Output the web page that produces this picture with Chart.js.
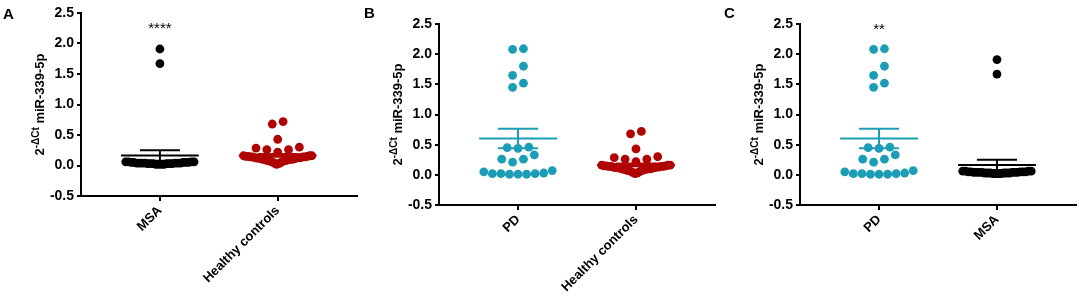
<!DOCTYPE html>
<html>
<head>
<meta charset="utf-8">
<script src="https://cdn.jsdelivr.net/npm/chart.js@4.4.1/dist/chart.umd.min.js"></script>
<style>
  html, body { margin: 0; padding: 0; background: #fff; }
  #wrap { position: relative; width: 1084px; height: 306px; overflow: hidden; }
  #wrap canvas { position: absolute; top: 0; }
</style>
</head>
<body>
<div id="wrap">
  <canvas id="chartA" width="361" height="306" style="left:0"></canvas>
  <canvas id="chartB" width="361" height="306" style="left:361px"></canvas>
  <canvas id="chartC" width="362" height="306" style="left:722px"></canvas>
</div>
<script>
// values (2^-dCt of miR-339-5p)
const pdValues = [2.09, 2.08, 1.80, 1.65, 1.52, 1.45, 0.46, 0.45, 0.44, 0.33, 0.26, 0.26, 0.21,
    0.07, 0.03, 0.02, 0.02, 0.01, 0.01, 0.01, 0.02, 0.05];
const msaValues = [1.91, 1.67,
    0.02, 0.02, 0.02, 0.02, 0.03, 0.03, 0.03, 0.03, 0.03, 0.03,
    0.04, 0.04, 0.04, 0.04, 0.04, 0.04, 0.04, 0.05, 0.05, 0.05, 0.05, 0.05,
    0.06, 0.06, 0.06, 0.06];
const hcValues = [0.72, 0.68, 0.43, 0.30, 0.285, 0.26, 0.26, 0.22,
    0.02, 0.03, 0.04, 0.05, 0.06, 0.07, 0.07, 0.08, 0.08, 0.09, 0.09, 0.10, 0.10, 0.10,
    0.11, 0.11, 0.12, 0.12, 0.12, 0.13, 0.13, 0.13, 0.14, 0.14, 0.14, 0.14,
    0.15, 0.15, 0.15, 0.16, 0.16, 0.16];

const panelLetters = ['A', 'B', 'C'];
const panelGroups = [
    ['MSA', 'Healthy controls'],
    ['PD', 'Healthy controls'],
    ['PD', 'MSA']
];
const sigLabels = ['****', '', '**'];
const sigLevels = [2.24, null, 2.41];
const yTickValues = [-0.5, 0, 0.5, 1, 1.5, 2, 2.5];

const groupValues = { 'PD': pdValues, 'MSA': msaValues, 'Healthy controls': hcValues };
const groupColors = { 'PD': '#1b9db6', 'MSA': '#000000', 'Healthy controls': '#b00404' };

// layout of each panel on the page
const panelBoxes = [
    { id: 'chartA', axisWidth: 81, top: 13, right: 4, xHeight: 110, letterX: 3, letterY: 19 },
    { id: 'chartB', axisWidth: 78, top: 24, right: 7, xHeight: 101, letterX: 3, letterY: 18 },
    { id: 'chartC', axisWidth: 78, top: 24, right: 8, xHeight: 101, letterX: 2, letterY: 18 }
];

const FONT = "'Liberation Sans', Arial, Helvetica, sans-serif";
const ROW_SPAN = 0.16;   // values closer than this share a row in the scatter
const SLOT = 0.092;      // horizontal gap between dots of one row (x units)
const MAX_SPREAD = 0.58; // widest a row may get (x units)

// GraphPad-like column scatter: rows of close values spread out from the middle
function swarm(values) {
    const sorted = values.slice().sort((a, b) => a - b);
    const rows = [];
    let row = null;
    sorted.forEach(v => {
        if (!row || v - row[0] > ROW_SPAN) {
            row = [];
            rows.push(row);
        }
        row.push(v);
    });
    const out = [];
    rows.forEach(r => {
        const n = r.length;
        const step = n > 1 ? Math.min(SLOT, MAX_SPREAD / (n - 1)) : 0;
        const slots = [];
        for (let i = 0; i < n; i++) slots.push((i - (n - 1) / 2) * step);
        slots.sort((a, b) => (Math.abs(a) - Math.abs(b)) || (a - b));
        r.forEach((v, i) => out.push({ dx: slots[i], y: v }));
    });
    return out;
}

function meanSem(values) {
    const n = values.length;
    const mean = values.reduce((s, v) => s + v, 0) / n;
    const ss = values.reduce((s, v) => s + (v - mean) * (v - mean), 0);
    return { mean: mean, sem: Math.sqrt(ss / (n - 1)) / Math.sqrt(n) };
}

// mean line + SEM whiskers, broken up with null points
function errorBar(cx, st) {
    const hi = st.mean + st.sem, lo = st.mean - st.sem;
    return [
        { x: cx - 0.33, y: st.mean }, { x: cx + 0.33, y: st.mean }, { x: cx, y: null },
        { x: cx - 0.17, y: hi }, { x: cx + 0.17, y: hi }, { x: cx, y: null },
        { x: cx - 0.17, y: lo }, { x: cx + 0.17, y: lo }, { x: cx, y: null },
        { x: cx, y: lo }, { x: cx, y: hi }
    ];
}

function decorPlugin(p) {
    return {
        id: 'decor' + p,
        afterDraw(chart) {
            const ctx = chart.ctx;
            const area = chart.chartArea;
            const box = panelBoxes[p];
            ctx.save();
            ctx.fillStyle = '#000';

            // panel letter
            ctx.font = 'bold 15px ' + FONT;
            ctx.textAlign = 'left';
            ctx.textBaseline = 'alphabetic';
            ctx.fillText(panelLetters[p], box.letterX, box.letterY);

            // y axis title with superscript
            const big = 'bold 13px ' + FONT, small = 'bold 10px ' + FONT;
            ctx.font = big;
            const w1 = ctx.measureText('2').width;
            const w3 = ctx.measureText(' miR-339-5p').width;
            ctx.font = small;
            const w2 = ctx.measureText('-\u0394Ct').width;
            ctx.translate(area.left - 37, (area.top + area.bottom) / 2);
            ctx.rotate(-Math.PI / 2);
            let x = -(w1 + w2 + w3) / 2;
            ctx.font = big;
            ctx.fillText('2', x, 0);
            x += w1;
            ctx.font = small;
            ctx.fillText('-\u0394Ct', x, -5.5);
            x += w2;
            ctx.font = big;
            ctx.fillText(' miR-339-5p', x, 0);
            ctx.restore();

            // significance stars over the first group
            if (sigLabels[p]) {
                ctx.save();
                ctx.font = '15px ' + FONT;
                ctx.textAlign = 'center';
                ctx.textBaseline = 'middle';
                ctx.fillStyle = '#000';
                ctx.fillText(sigLabels[p], chart.scales.x.getPixelForValue(1),
                    chart.scales.y.getPixelForValue(sigLevels[p]));
                ctx.restore();
            }
        }
    };
}

function renderPanel(p) {
    const box = panelBoxes[p];
    const groups = panelGroups[p];
    const datasets = [];
    groups.forEach((name, gi) => {
        const cx = gi + 1;
        const values = groupValues[name];
        datasets.push({
            label: name + ' mean',
            data: errorBar(cx, meanSem(values)),
            showLine: true,
            spanGaps: false,
            borderColor: groupColors[name],
            borderWidth: 2,
            pointRadius: 0,
            pointHoverRadius: 0,
            order: 0
        });
        datasets.push({
            label: name,
            data: swarm(values).map(pt => ({ x: cx + pt.dx, y: pt.y })),
            backgroundColor: groupColors[name],
            borderWidth: 0,
            pointRadius: 4.4,
            pointHoverRadius: 4.4,
            order: 1
        });
    });

    const axisGrid = {
        display: true,
        drawOnChartArea: false,
        drawTicks: true,
        color: '#000',
        lineWidth: 2
    };

    new Chart(document.getElementById(box.id), {
        type: 'scatter',
        data: { datasets: datasets },
        options: {
            responsive: false,
            animation: false,
            events: [],
            layout: { padding: { left: 0, top: box.top, right: box.right, bottom: 0 } },
            plugins: {
                legend: { display: false },
                tooltip: { enabled: false }
            },
            scales: {
                x: {
                    type: 'linear',
                    min: 0.33,
                    max: 2.67,
                    grid: Object.assign({ tickLength: 5 }, axisGrid),
                    border: { display: true, color: '#000', width: 2 },
                    afterBuildTicks: scale => {
                        scale.ticks = groups.map((g, i) => ({ value: i + 1 }));
                    },
                    afterFit: scale => { scale.height = box.xHeight; },
                    ticks: {
                        autoSkip: false,
                        minRotation: 45,
                        maxRotation: 45,
                        padding: 2,
                        color: '#000',
                        font: { family: FONT, size: 13, weight: 'bold' },
                        callback: v => groups[Math.round(v) - 1]
                    }
                },
                y: {
                    min: -0.5,
                    max: 2.5,
                    grid: Object.assign({ tickLength: 4 }, axisGrid),
                    border: { display: true, color: '#000', width: 2 },
                    afterBuildTicks: scale => {
                        scale.ticks = yTickValues.map(v => ({ value: v }));
                    },
                    afterFit: scale => { scale.width = box.axisWidth; },
                    ticks: {
                        padding: 3,
                        color: '#000',
                        font: { family: FONT, size: 14, weight: 'bold' },
                        callback: v => Number(v).toFixed(1)
                    }
                }
            }
        },
        plugins: [decorPlugin(p)]
    });
}

document.addEventListener('DOMContentLoaded', function() {
    for (let p = 0; p < 3; p++) renderPanel(p);
});
</script>
</body>
</html>
